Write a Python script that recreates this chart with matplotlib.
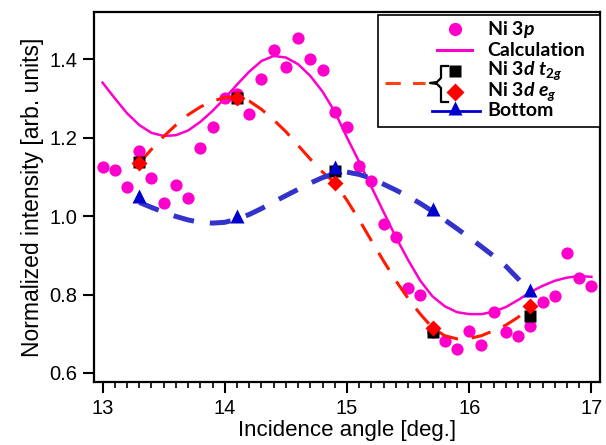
import numpy as np
import matplotlib
matplotlib.use('Agg')
import matplotlib.pyplot as plt
from matplotlib.patches import Rectangle
from matplotlib.ticker import MultipleLocator

plt.rcParams['font.family'] = ['Liberation Sans', 'DejaVu Sans']
plt.rcParams['mathtext.fontset'] = 'custom'
plt.rcParams['mathtext.rm'] = 'Lato:bold'
plt.rcParams['mathtext.it'] = 'Lato:bold:italic'
plt.rcParams['mathtext.bf'] = 'Lato:bold'

# Ni 3p measured + calculation (0.1 deg grid)
angle_3p = [13.0, 13.1, 13.2, 13.3, 13.4, 13.5, 13.6, 13.7, 13.8, 13.9,
            14.0, 14.1, 14.2, 14.3, 14.4, 14.5, 14.6, 14.7, 14.8, 14.9,
            15.0, 15.1, 15.2, 15.3, 15.4, 15.5, 15.6, 15.7, 15.8, 15.9,
            16.0, 16.1, 16.2, 16.3, 16.4, 16.5, 16.6, 16.7, 16.8, 16.9, 17.0]
ni3p = [1.124, 1.118, 1.075, 1.165, 1.097, 1.033, 1.080, 1.047, 1.174, 1.228,
        1.300, 1.310, 1.261, 1.348, 1.423, 1.380, 1.453, 1.400, 1.372, 1.266,
        1.228, 1.127, 1.089, 0.980, 0.946, 0.816, 0.799, 0.705, 0.682, 0.660,
        0.708, 0.672, 0.756, 0.704, 0.694, 0.720, 0.780, 0.797, 0.906, 0.843, 0.822]
calc = [1.340, 1.300, 1.262, 1.232, 1.212, 1.204, 1.206, 1.218, 1.240, 1.268,
        1.300, 1.335, 1.368, 1.395, 1.408, 1.404, 1.387, 1.357, 1.317, 1.266,
        1.200, 1.138, 1.074, 1.010, 0.946, 0.888, 0.835, 0.795, 0.770, 0.755,
        0.750, 0.750, 0.756, 0.768, 0.786, 0.806, 0.822, 0.835, 0.843, 0.847, 0.845]

# Ni 3d curves (guides), 13.3 .. 16.5
angle_3d = [13.3, 13.4, 13.5, 13.6, 13.7, 13.8, 13.9,
            14.0, 14.1, 14.2, 14.3, 14.4, 14.5, 14.6, 14.7, 14.8, 14.9,
            15.0, 15.1, 15.2, 15.3, 15.4, 15.5, 15.6, 15.7, 15.8, 15.9,
            16.0, 16.1, 16.2, 16.3, 16.4, 16.5]
ni3d_curve = [1.135, 1.170, 1.203, 1.232, 1.258, 1.278, 1.293,
              1.302, 1.303, 1.293, 1.272, 1.245, 1.215, 1.180, 1.145, 1.112, 1.085,
              1.040, 0.990, 0.937, 0.885, 0.835, 0.790, 0.750, 0.715, 0.695, 0.687,
              0.688, 0.695, 0.708, 0.722, 0.742, 0.770]
bottom_curve = [1.035, 1.022, 1.010, 0.999, 0.990, 0.984, 0.982,
                0.984, 0.992, 1.004, 1.019, 1.036, 1.052, 1.068, 1.084, 1.098, 1.108,
                1.112, 1.106, 1.096, 1.081, 1.066, 1.050, 1.032, 1.012, 0.990, 0.968,
                0.945, 0.922, 0.898, 0.872, 0.840, 0.806]

# measured sites
angle_pts = [13.3, 14.1, 14.9, 15.7, 16.5]
t2g = [1.137, 1.302, 1.115, 0.704, 0.746]
eg = [1.135, 1.302, 1.084, 0.714, 0.770]
bottom = [1.050, 1.000, 1.125, 1.018, 0.812]

pink = '#FF00CC'
red = '#FF1A00'
blue_line = '#3333CC'
blue_mk = '#0000CC'

fig = plt.figure(figsize=(6.06, 4.45), dpi=100)
ax = fig.add_axes([94/606, 1-382/445, (600-94)/606, (382-12)/445])

ax.plot(angle_3p, ni3p, 'o', color=pink, ms=8.8, mec='none', zorder=2)
ax.plot(angle_3p, calc, '-', color=pink, lw=1.8, zorder=3)
ax.plot(angle_3d, ni3d_curve, '--', color=red, lw=2.2, dashes=(6.5, 4.5), zorder=4)
ax.plot(angle_3d, bottom_curve, '--', color=blue_line, lw=3.6, dashes=(4.2, 3.2), zorder=4)
ax.plot(angle_pts, t2g, 's', color='black', ms=8.5, mec='none', zorder=5)
ax.plot(angle_pts, eg, 'D', color='#FF0000', ms=8.5, mec='none', zorder=6)
ax.plot(angle_pts, bottom, '^', color=blue_mk, ms=10.5, mec='none', zorder=7)

ax.set_xlim(12.93, 17.07)
ax.set_ylim(0.577, 1.52)
ax.xaxis.set_major_locator(MultipleLocator(1))
ax.xaxis.set_minor_locator(MultipleLocator(0.1))
ax.tick_params(which='major', direction='out', length=8, width=1.5, labelsize=14.5, pad=4)
ax.tick_params(which='minor', direction='out', length=4, width=1.2)
ax.set_yticks([0.6, 0.8, 1.0, 1.2, 1.4])
ax.set_yticklabels(['0.6', '0.8', '1.0', '1.2', '1.4'])
for s in ax.spines.values():
    s.set_linewidth(1.6)

ax.set_xlabel('Incidence angle [deg.]', fontsize=16, labelpad=2)
ax.set_ylabel('Normalized intensity [arb. units]', fontsize=16.5, labelpad=4)

# legend drawn by hand (bracket grouping)
tf = fig.transFigure
def P(px, py):
    return px / 606, 1 - py / 445

x0, y0 = P(378, 127)
x1, y1 = P(600, 15)
ax.add_patch(Rectangle((x0, y0), x1 - x0, y1 - y0, transform=tf, facecolor='white',
                       edgecolor='black', lw=1.2, zorder=10, clip_on=False))

def lplot(xs, ys, *args, **kw):
    pts = [P(a, b) for a, b in zip(xs, ys)]
    ax.plot([p[0] for p in pts], [p[1] for p in pts], *args, transform=tf,
            clip_on=False, zorder=11, **kw)

lplot([455], [29], 'o', color=pink, ms=9.5, mec='none')
lplot([437, 472], [50, 50], '-', color=pink, lw=2.2)
lplot([455], [71], 's', color='black', ms=8.5, mec='none')
lplot([455], [92], 'D', color='#FF0000', ms=9, mec='none')
lplot([385, 425], [83, 83], '--', color='#FF4010', lw=2.2, dashes=(5, 4))
lplot([448, 441, 441, 437, 430, 437, 441, 441, 448],
      [66, 66, 78, 82, 83, 84, 88, 102, 102], '-', color='black', lw=1.6)
lplot([432, 480], [111, 111], '-', color=blue_mk, lw=2)
lplot([455], [108], '^', color=blue_mk, ms=10, mec='none')

tkw = dict(transform=tf, fontsize=14, fontweight='bold', family='Lato',
           va='center', ha='left', zorder=12)
for py, s in [(29, r'Ni 3$p$'), (50, 'Calculation'), (71, r'Ni 3$d$ $t_{2g}$'),
              (92, r'Ni 3$d$ $e_g$'), (111, 'Bottom')]:
    px, pyf = P(487, py)
    fig.text(px, pyf, s, **tkw)

fig.savefig('out.png', dpi=100)
